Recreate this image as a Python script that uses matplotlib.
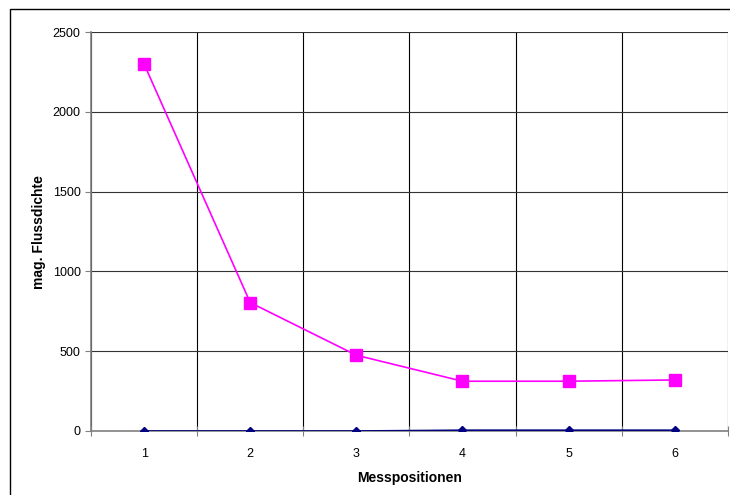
import matplotlib
matplotlib.use("Agg")
from matplotlib import pyplot as plt
from matplotlib.patches import Rectangle

plt.rcParams['font.family'] = ['Liberation Sans', 'DejaVu Sans']

positions = [1, 2, 3, 4, 5, 6]
series_pink = [2300, 805, 475, 312, 312, 320]
series_navy = [0, 0, 0, 5, 5, 5]
y_ticks = [0, 500, 1000, 1500, 2000, 2500]

fig = plt.figure(figsize=(7.3, 4.95), dpi=100)
ax = fig.add_axes([0.1247, 0.1293, 0.8723, 0.8057])

# outer chart border (right and bottom edges lie outside the picture)
fig.patches.append(Rectangle((10 / 730, -10 / 495), 730 / 730, 496 / 495,
                             transform=fig.transFigure, fill=False,
                             edgecolor="black", linewidth=1.0))

ax.plot(positions, series_navy, "-D", color="#000080", markersize=4, linewidth=1.2, zorder=3)
ax.plot(positions, series_pink, "-s", color="#FF00FF", markersize=8, linewidth=1.2, zorder=4)

ax.set_xlim(0.5, 6.5)
ax.set_ylim(0, 2500)

# category boundaries as major ticks + vertical grid, labels on minor ticks
ax.set_xticks([0.5, 1.5, 2.5, 3.5, 4.5, 5.5, 6.5])
ax.set_xticklabels([])
ax.set_xticks(positions, minor=True)
ax.set_xticklabels([str(p) for p in positions], minor=True)
ax.tick_params(axis="x", which="major", direction="inout", length=7, color="#808080")
ax.tick_params(axis="x", which="minor", length=0, labelsize=9, pad=12)
ax.set_yticks(y_ticks)
ax.tick_params(axis="y", direction="out", length=4, labelsize=9, color="#808080")

ax.grid(axis="x", which="major", color="black", linewidth=0.8)
ax.grid(axis="y", color="#333333", linewidth=0.8)
ax.set_axisbelow(True)

for s in ["top", "right"]:
    ax.spines[s].set_visible(False)
for s in ["left", "bottom"]:
    ax.spines[s].set_color("#808080")
    ax.spines[s].set_linewidth(1.2)

ax.set_xlabel("Messpositionen", fontsize=10, fontweight="bold", labelpad=8)
ax.set_ylabel("mag. Flussdichte", fontsize=10, fontweight="bold", labelpad=5)

plt.savefig("out.png", dpi=100)
plt.close()
